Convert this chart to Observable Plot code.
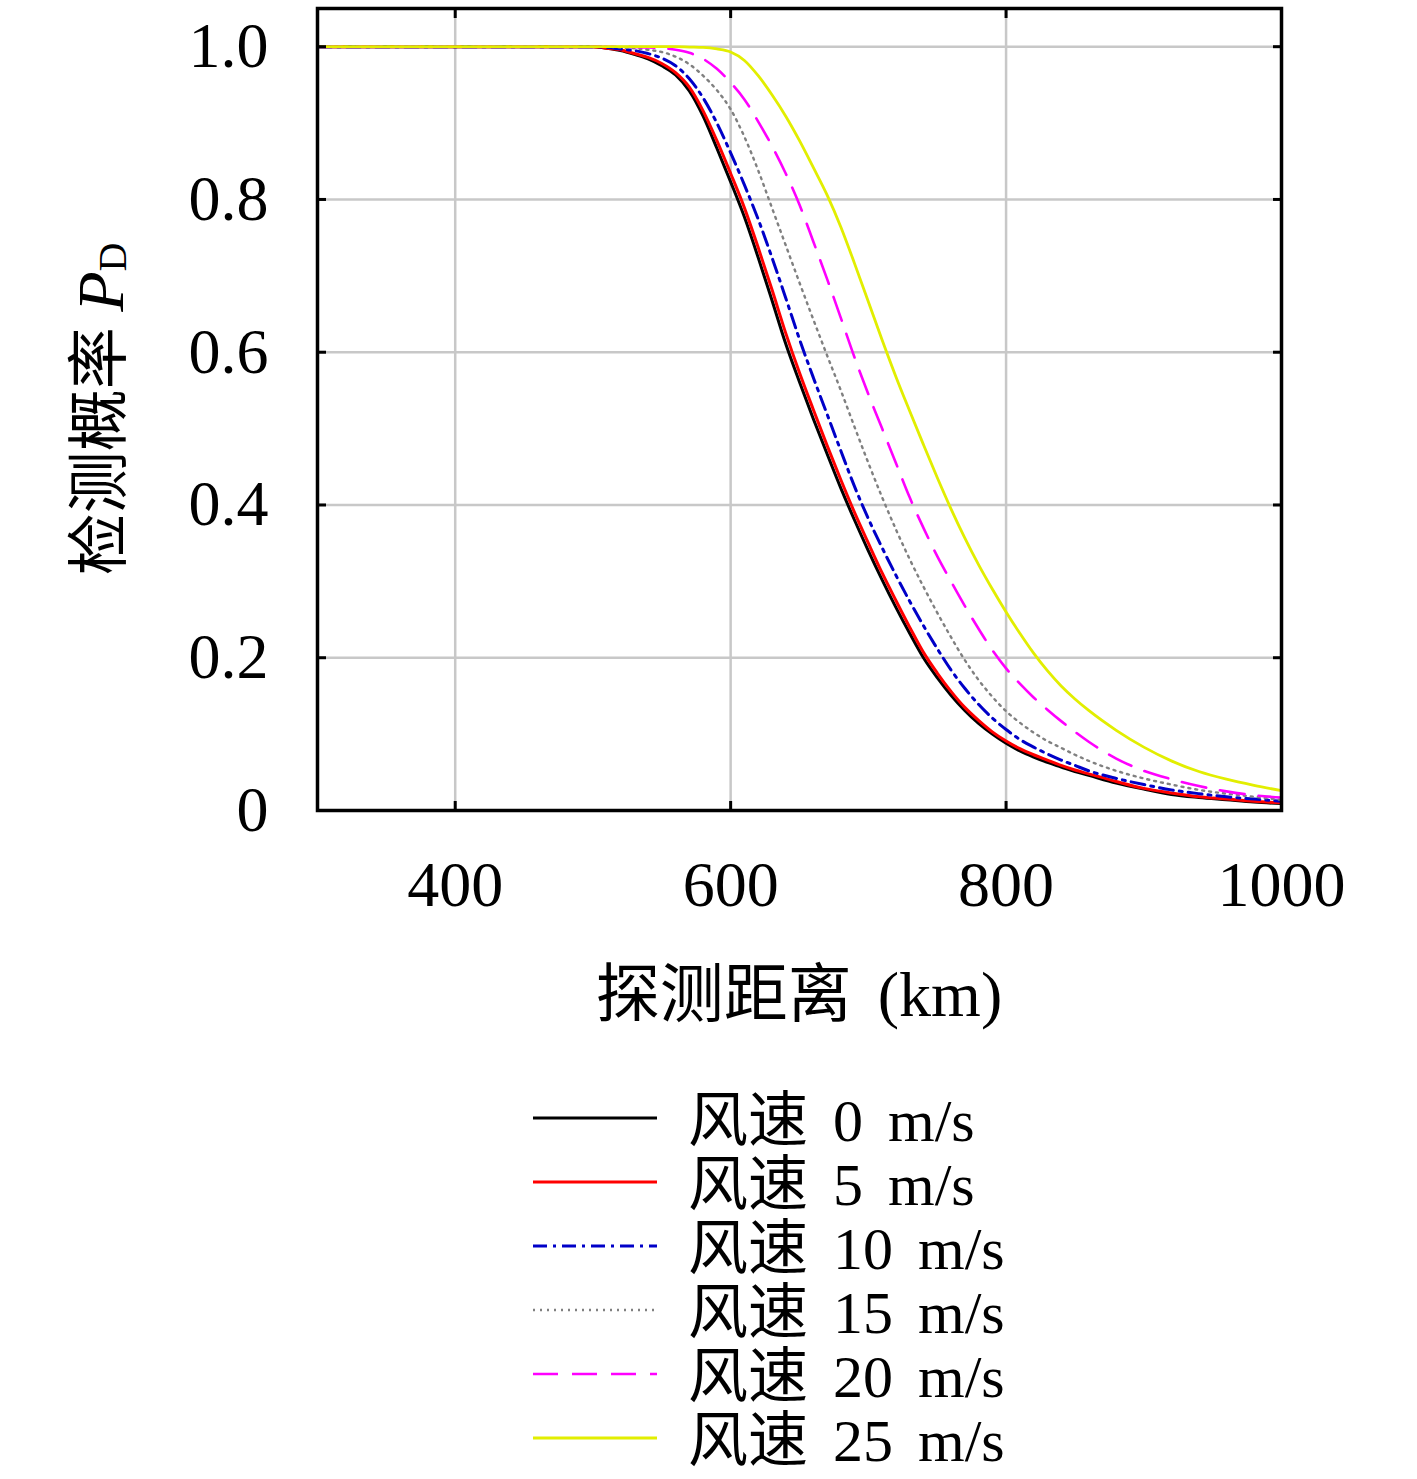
<!DOCTYPE html>
<html><head><meta charset="utf-8">
<script src="https://cdn.jsdelivr.net/npm/d3@7"></script>
<script src="https://cdn.jsdelivr.net/npm/@observablehq/plot@0.6"></script>
<style>
body{margin:0;background:#fff;}
#legend{font-family:"Liberation Serif","Noto Sans CJK SC",serif;font-size:60px;color:#000;padding-top:26px;word-spacing:10px;}
.row{display:flex;align-items:center;height:64px;white-space:pre;}
.row svg{margin-left:533px;margin-right:31px;}
.row span{position:relative;top:-4px;}
</style></head><body>
<div id="chart"></div><div id="legend"></div>
<script>
// ---- data ----
const distance = [300, 400, 450,
  500, 510, 520, 530, 540, 550, 560, 570, 580, 590, 600, 610, 620, 630, 640, 650, 660, 670, 680, 690, 700,
  710, 720, 730, 740, 750, 760, 770, 780, 790, 800,
  810, 820, 830, 840, 850, 860, 880, 900, 920, 940, 960, 980, 1000];
const pd0 = [1, 1, 1,
  1.0, 0.998, 0.995, 0.99, 0.984, 0.975, 0.963, 0.942, 0.909, 0.867, 0.823, 0.777, 0.724, 0.668, 0.611, 0.561, 0.513, 0.467, 0.422, 0.38, 0.34,
  0.302, 0.266, 0.232, 0.2, 0.174, 0.151, 0.131, 0.114, 0.1, 0.088,
  0.078, 0.07, 0.063, 0.057, 0.051, 0.046, 0.036, 0.028, 0.021, 0.017, 0.014, 0.011, 0.009];
const pd5 = [1, 1, 1,
  1.0, 0.998, 0.996, 0.991, 0.986, 0.978, 0.966, 0.947, 0.916, 0.877, 0.834, 0.789, 0.737, 0.682, 0.625, 0.573, 0.525, 0.478, 0.433, 0.39, 0.35,
  0.311, 0.275, 0.24, 0.207, 0.18, 0.156, 0.135, 0.118, 0.103, 0.091,
  0.081, 0.073, 0.066, 0.059, 0.053, 0.048, 0.038, 0.029, 0.023, 0.018, 0.015, 0.012, 0.01];
const pd10 = [1, 1, 1,
  1.0, 0.999, 0.997, 0.995, 0.991, 0.985, 0.975, 0.958, 0.933, 0.9, 0.861, 0.819, 0.774, 0.724, 0.671, 0.617, 0.567, 0.519, 0.471, 0.424, 0.382,
  0.344, 0.308, 0.274, 0.242, 0.212, 0.184, 0.16, 0.139, 0.121, 0.106,
  0.093, 0.083, 0.074, 0.066, 0.059, 0.052, 0.042, 0.034, 0.027, 0.022, 0.018, 0.015, 0.012];
const pd15 = [1, 1, 1,
  1.0, 1.0, 0.999, 0.998, 0.996, 0.993, 0.987, 0.977, 0.962, 0.943, 0.918, 0.882, 0.838, 0.789, 0.74, 0.691, 0.643, 0.596, 0.55, 0.502, 0.455,
  0.41, 0.368, 0.329, 0.293, 0.259, 0.227, 0.197, 0.171, 0.149, 0.13,
  0.115, 0.102, 0.091, 0.082, 0.073, 0.065, 0.052, 0.042, 0.034, 0.027, 0.022, 0.018, 0.014];
const pd20 = [1, 1, 1,
  1.0, 1.0, 1.0, 0.9995, 0.999, 0.998, 0.996, 0.992, 0.984, 0.971, 0.953, 0.931, 0.902, 0.87, 0.834, 0.793, 0.745, 0.696, 0.645, 0.593, 0.545,
  0.5, 0.455, 0.41, 0.37, 0.333, 0.3, 0.268, 0.238, 0.21, 0.186,
  0.166, 0.148, 0.132, 0.117, 0.103, 0.09, 0.068, 0.052, 0.041, 0.032, 0.025, 0.02, 0.017];
const pd25 = [1, 1, 1,
  1.0, 1.0, 1.0, 1.0, 1.0, 1.0, 1.0, 0.9995, 0.999, 0.997, 0.993, 0.982, 0.962, 0.937, 0.909, 0.877, 0.842, 0.806, 0.764, 0.716, 0.666,
  0.616, 0.568, 0.523, 0.479, 0.436, 0.395, 0.357, 0.322, 0.29, 0.26,
  0.232, 0.206, 0.183, 0.163, 0.146, 0.131, 0.105, 0.083, 0.065, 0.051, 0.041, 0.033, 0.026];
const seriesLabels = ["风速 0 m/s", "风速 5 m/s", "风速 10 m/s", "风速 15 m/s", "风速 20 m/s", "风速 25 m/s"];
const xTicks = [400, 600, 800, 1000];
const yTicks = [0, 0.2, 0.4, 0.6, 0.8, 1.0];

// ---- styles ----
const styles = [
  {stroke: "#000000", strokeWidth: 3, dash: null},
  {stroke: "#ff0000", strokeWidth: 3, dash: null},
  {stroke: "#0000c8", strokeWidth: 3, dash: "14,6,3,6"},
  {stroke: "#808080", strokeWidth: 2.4, dash: "2,5"},
  {stroke: "#ff00ff", strokeWidth: 2.6, dash: "25,14"},
  {stroke: "#e2ee00", strokeWidth: 2.8, dash: null}
];
const allSeries = [pd0, pd5, pd10, pd15, pd20, pd25];

const rows = [];
allSeries.forEach((vals, i) => distance.forEach((d, j) => rows.push({series: seriesLabels[i], distance: d, pd: vals[j]})));

const W = 1417, H = 1060, ML = 317, MR = 136, MT = 8, MB = 250;
const serif = "Liberation Serif, serif";

const lineMarks = seriesLabels.map((s, i) => Plot.line(rows.filter(r => r.series === s), {
  x: "distance", y: "pd", stroke: styles[i].stroke, strokeWidth: styles[i].strokeWidth,
  strokeDasharray: styles[i].dash, curve: "monotone-x"
}));

const chart = Plot.plot({
  width: W, height: H,
  marginLeft: ML, marginRight: MR, marginTop: MT, marginBottom: MB,
  style: {background: "#fff"},
  x: {domain: [300, 1000]},
  y: {domain: [0, 1.05]},
  marks: [
    Plot.gridX(xTicks, {stroke: "#c8c8c8", strokeOpacity: 1, strokeWidth: 2.5}),
    Plot.gridY(yTicks.filter(d => d > 0), {stroke: "#c8c8c8", strokeOpacity: 1, strokeWidth: 2.5}),
    ...lineMarks,
    Plot.axisX(xTicks, {anchor: "bottom", tickSize: -9, strokeWidth: 3, tickFormat: () => "", label: null}),
    Plot.axisX(xTicks, {anchor: "top", tickSize: -9, strokeWidth: 3, tickFormat: () => "", label: null}),
    Plot.axisY(yTicks, {anchor: "left", tickSize: -9, strokeWidth: 3, tickFormat: () => "", label: null}),
    Plot.axisY(yTicks, {anchor: "right", tickSize: -9, strokeWidth: 3, tickFormat: () => "", label: null}),
    Plot.axisX(xTicks, {anchor: "bottom", tickSize: 0, tickPadding: 50, fontSize: 64, fontFamily: serif, label: null, tickFormat: d => String(d)}),
    Plot.axisY(yTicks, {anchor: "left", tickSize: 0, tickPadding: 49, fontSize: 64, fontFamily: serif, label: null, tickFormat: d => d === 0 ? "0" : d.toFixed(1)}),
    Plot.frame({stroke: "#000", strokeWidth: 3.5})
  ]
});
document.getElementById("chart").appendChild(chart);

// axis titles
const svg = d3.select(chart);
svg.append("text")
  .attr("x", (ML + (W - MR)) / 2).attr("y", 994)
  .attr("text-anchor", "middle").attr("dominant-baseline", "central")
  .style("font-family", "Liberation Serif, Noto Sans CJK SC, serif").style("font-size", "64px").attr("fill", "#000")
  .style("word-spacing", "10px")
  .text("探测距离 (km)");
const yl = svg.append("text")
  .attr("transform", `translate(100,${(MT + (H - MB)) / 2}) rotate(-90)`)
  .attr("text-anchor", "middle").attr("dominant-baseline", "central")
  .style("font-family", "Liberation Serif, Noto Sans CJK SC, serif").style("font-size", "62px").attr("fill", "#000");
yl.append("tspan").text("检测概率 ");
yl.append("tspan").style("font-style", "italic").style("font-size", "66px").text("P");
yl.append("tspan").attr("dy", 12).style("font-size", "40px").text("D");

// legend
const legend = d3.select("#legend");
seriesLabels.forEach((s, i) => {
  const row = legend.append("div").attr("class", "row");
  const sw = row.append("svg").attr("width", 124).attr("height", 10);
  sw.append("line").attr("x1", 0).attr("x2", 124).attr("y1", 5).attr("y2", 5)
    .attr("stroke", styles[i].stroke).attr("stroke-width", styles[i].strokeWidth)
    .attr("stroke-dasharray", styles[i].dash);
  row.append("span").text(s);
});
</script></body></html>
